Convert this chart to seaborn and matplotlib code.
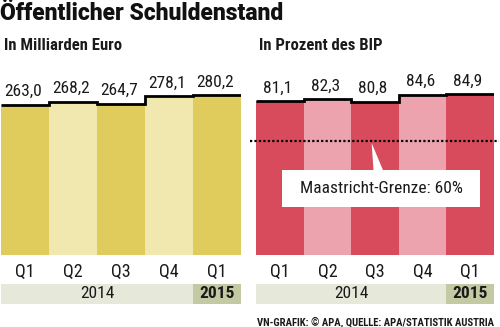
import numpy as np
import pandas as pd
import matplotlib
matplotlib.use("Agg")
import matplotlib.pyplot as plt
import seaborn as sns
from matplotlib.patches import Polygon, Rectangle

# ---- data ----
quarters = ["Q1", "Q2", "Q3", "Q4", "Q1"]
years = ["2014", "2014", "2014", "2014", "2015"]
euro_bn = [263.0, 268.2, 264.7, 278.1, 280.2]
pct_gdp = [81.1, 82.3, 80.8, 84.6, 84.9]
euro_labels = ["263,0", "268,2", "264,7", "278,1", "280,2"]
pct_labels = ["81,1", "82,3", "80,8", "84,6", "84,9"]
shade = ["dark", "light", "dark", "light", "dark"]
maastricht = 60

title = "Öffentlicher Schuldenstand"
sub_left = "In Milliarden Euro"
sub_right = "In Prozent des BIP"
note = "Maastricht-Grenze: 60%"
source = "VN-GRAFIK: © APA, QUELLE: APA/STATISTIK AUSTRIA"

sns.set_theme(style="white")
FAM = ["Liberation Sans Narrow", "Roboto Condensed", "Roboto", "DejaVu Sans"]
plt.rcParams["font.family"] = FAM

W, H = 500, 327
fig = plt.figure(figsize=(W / 100, H / 100), dpi=100)


def fx(px):
    return px / W


def fy(py):
    return 1 - py / H


yel = {"dark": "#e0cc5c", "light": "#f1e8b0"}
red = {"dark": "#d84b5c", "light": "#eca3ad"}
band_light = "#e6e8da"
band_dark = "#c3c9a3"

df = pd.DataFrame({
    "period": [f"{q} {y}" for q, y in zip(quarters, years)],
    "quarter": quarters, "year": years,
    "euro": euro_bn, "pct": pct_gdp, "shade": shade,
})

panels = [
    (1, 241, "euro", euro_labels, yel, 324.0, sub_left, 4),
    (256, 494, "pct", pct_labels, red, 97.55, sub_right, 259),
]

top_px, bot_px = 70, 255
axes = []
for x0, x1, col, labels, pal, ytop, sub, subx in panels:
    ax = fig.add_axes([fx(x0), fy(bot_px), fx(x1 - x0), (bot_px - top_px) / H])
    sns.barplot(data=df, x="period", y=col, hue="shade", palette=pal,
                width=1.0, saturation=1, linewidth=0, legend=False, ax=ax)
    ax.set_xlim(-0.5, 4.5)
    ax.set_ylim(0, ytop)
    ax.stairs(df[col].values, np.arange(-0.5, 5.0, 1.0), baseline=None,
              color="black", linewidth=2.0, zorder=5)
    for i, (v, lab) in enumerate(zip(df[col], labels)):
        ax.annotate(lab, (i, v), xytext=(-1.5, 4), textcoords="offset points",
                    ha="center", va="bottom", fontsize=12.5, color="#1a1a1a")
    ax.set_xticks(range(5))
    ax.set_xticklabels(quarters, fontsize=13, color="#1a1a1a")
    ax.tick_params(axis="x", length=0, pad=6)
    ax.set_yticks([])
    ax.set_xlabel("")
    ax.set_ylabel("")
    for s in ax.spines.values():
        s.set_visible(False)
    ax.patch.set_alpha(0)

    # year band
    bax = fig.add_axes([fx(x0), fy(304), fx(x1 - x0), 20 / H])
    bax.set_xlim(-0.5, 4.5)
    bax.set_ylim(0, 1)
    bax.axvspan(-0.5, 3.5, color=band_light, lw=0)
    bax.axvspan(3.5, 4.5, color=band_dark, lw=0)
    bax.text(1.5, 0.5, "2014", ha="center", va="center", fontsize=12.5, color="#1a1a1a")
    bax.text(4.0, 0.5, "2015", ha="center", va="center", fontsize=12.5,
             fontweight="bold", color="#1a1a1a")
    bax.axis("off")

    fig.text(fx(subx), fy(46), sub, ha="left", va="center", fontsize=12,
             fontweight="bold", color="#1a1a1a")
    axes.append(ax)

# Maastricht line and callout on the right panel
axr = axes[1]
axr.plot([-0.626, 4.605], [maastricht, maastricht], color="black",
         linestyle=(0, (1, 1)), linewidth=1.6, clip_on=False, zorder=6)
axr.add_patch(Polygon([(1.93, 59.0), (1.97, 44.0), (2.18, 44.0)],
                      closed=True, fc="white", ec="none", zorder=7))
axr.add_patch(Rectangle((0.046, 25.3), 4.16, 19.5, fc="white", ec="none", zorder=7))
axr.text(2.126, 35.0, note, ha="center", va="center", fontsize=12.5,
         color="#1a1a1a", zorder=8)

fig.text(0.0, fy(20), title, ha="left", va="baseline", fontsize=16.5,
         fontweight="black", color="#111111", family=["Roboto", "DejaVu Sans"])
fig.text(fx(494), fy(322), source, ha="right", va="center", fontsize=7.7,
         fontweight="bold", color="#1a1a1a")

fig.savefig("out.png", dpi=100)
